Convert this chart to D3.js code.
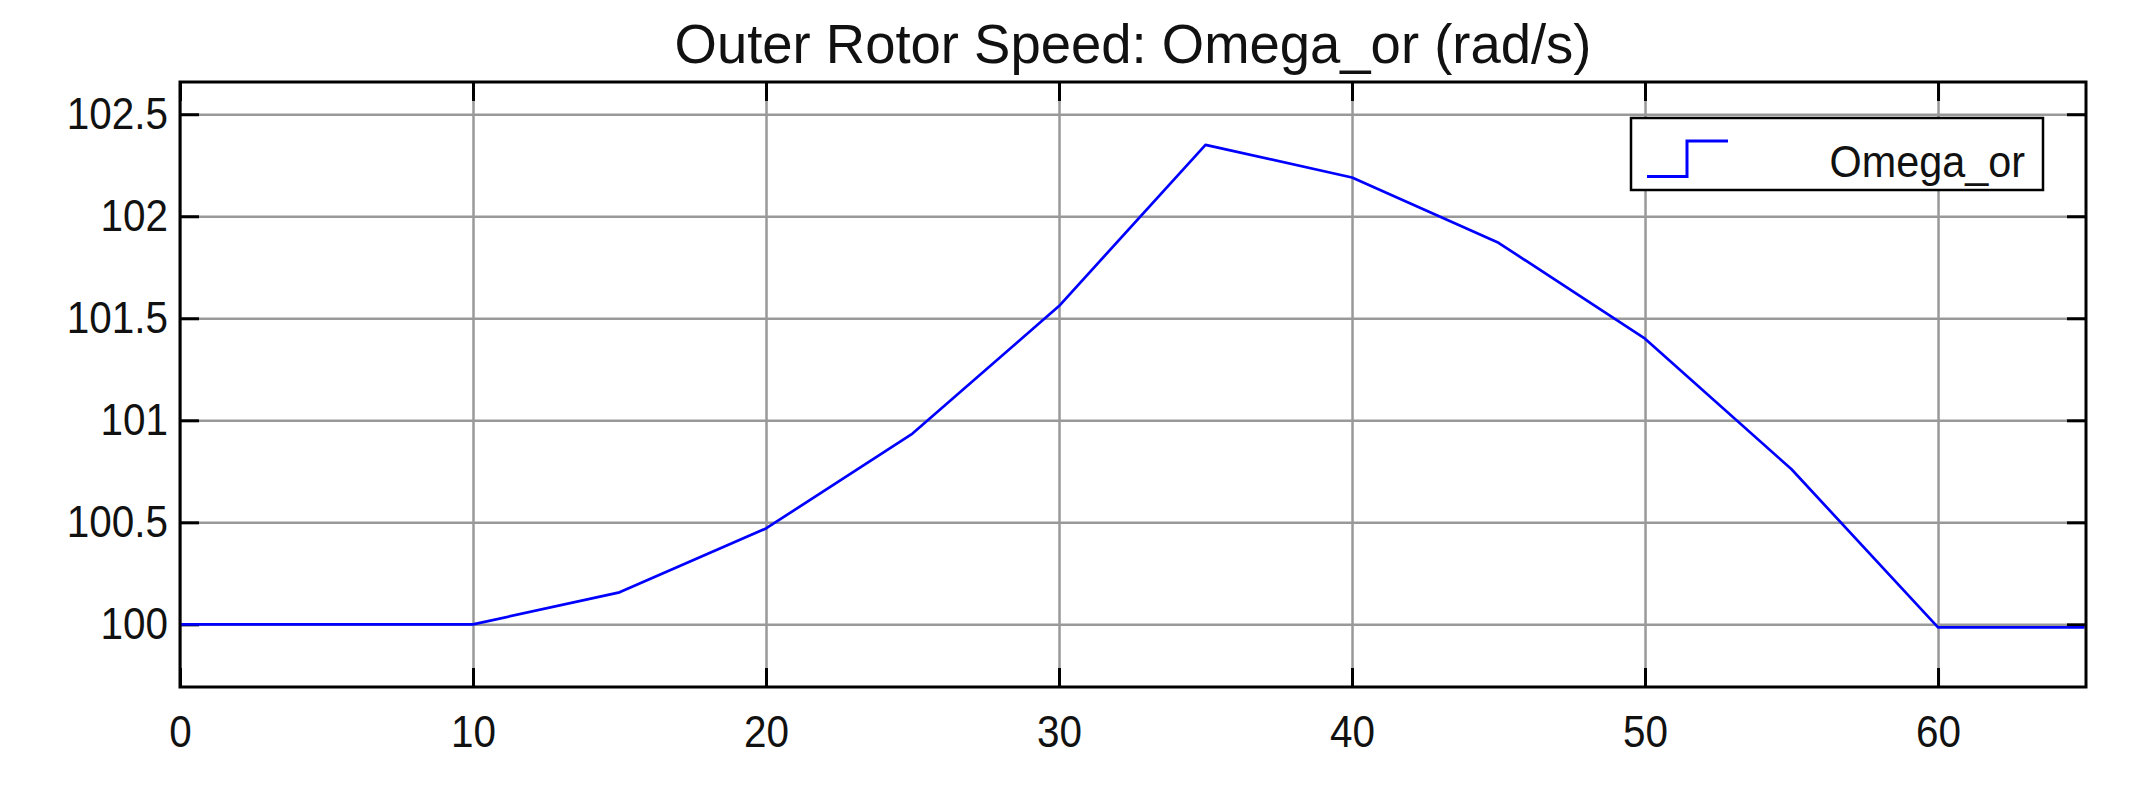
<!DOCTYPE html>
<html>
<head>
<meta charset="utf-8">
<script src="https://cdn.jsdelivr.net/npm/d3@7"></script>
<style>
  html, body { margin: 0; padding: 0; background: #fff; }
  svg { display: block; }
  text { font-family: "Liberation Sans", Arial, Helvetica, sans-serif; fill: #111; }
</style>
</head>
<body>
<svg id="chart" width="2135" height="811"></svg>
<script>
// ---- data ----
const titleText = "Outer Rotor Speed: Omega_or (rad/s)";
const seriesName = "Omega_or";
const timeValues  = [0, 5, 10, 15, 20, 25, 30, 35, 40, 45, 50, 55, 60, 65];
const omegaValues = [100, 100, 100, 100.157, 100.47, 100.935, 101.56, 102.35, 102.19, 101.87, 101.40, 100.76, 99.985, 99.985];
const xTicks = [0, 10, 20, 30, 40, 50, 60];
const yTicks = [100, 100.5, 101, 101.5, 102, 102.5];
const xDomain = [0, 65.05];
const yDomain = [99.693, 102.658];

// ---- layout ----
const L = 180, R = 2086, T = 82, B = 687;
const W = R - L, H = B - T;
const svg = d3.select("#chart");

const x = d3.scaleLinear().domain(xDomain).range([0, W]);
const y = d3.scaleLinear().domain(yDomain).range([H, 0]);

const g = svg.append("g").attr("transform", `translate(${L},${T})`);

g.append("rect").attr("width", W).attr("height", H).attr("fill", "#fff");

// grid
const gridColor = "#999999";
const gx = g.append("g").attr("transform", `translate(0,${H})`)
  .call(d3.axisBottom(x).tickValues(xTicks).tickSize(-H).tickFormat(""));
const gy = g.append("g")
  .call(d3.axisLeft(y).tickValues(yTicks).tickSize(-W).tickFormat(""));
[gx, gy].forEach(a => {
  a.select(".domain").remove();
  a.selectAll("line").attr("stroke", gridColor).attr("stroke-width", 2.5);
});

// inward ticks on all four sides
const tk = 19;
const tickAxes = [
  g.append("g").attr("transform", `translate(0,${H})`).call(d3.axisBottom(x).tickValues(xTicks).tickSize(-tk).tickFormat("")),
  g.append("g").call(d3.axisTop(x).tickValues(xTicks).tickSize(-tk).tickFormat("")),
  g.append("g").call(d3.axisLeft(y).tickValues(yTicks).tickSize(-tk).tickFormat("")),
  g.append("g").attr("transform", `translate(${W},0)`).call(d3.axisRight(y).tickValues(yTicks).tickSize(-tk).tickFormat(""))
];
tickAxes.forEach(a => {
  a.select(".domain").remove();
  a.selectAll("line").attr("stroke", "#000").attr("stroke-width", 3);
});

// data line
g.append("clipPath").attr("id", "clip").append("rect").attr("width", W).attr("height", H);
const line = d3.line().x((d, i) => x(timeValues[i])).y(d => y(d));
g.append("path")
  .datum(omegaValues)
  .attr("clip-path", "url(#clip)")
  .attr("fill", "none")
  .attr("stroke", "#0000ff")
  .attr("stroke-width", 2.7)
  .attr("stroke-linejoin", "round")
  .attr("d", line);

// frame
g.append("rect").attr("width", W).attr("height", H)
  .attr("fill", "none").attr("stroke", "#000").attr("stroke-width", 3);

// tick labels
const xl = g.append("g").attr("transform", `translate(0,${H})`)
  .call(d3.axisBottom(x).tickValues(xTicks).tickSize(0).tickPadding(29).tickFormat(d3.format("d")));
const yl = g.append("g")
  .call(d3.axisLeft(y).tickValues(yTicks).tickSize(0).tickPadding(13).tickFormat(d => String(d)));
[xl, yl].forEach(a => {
  a.select(".domain").remove();
  a.selectAll("text")
    .attr("font-size", 44)
    .attr("font-family", "Liberation Sans, Arial, sans-serif")
    .attr("fill", "#111")
    .attr("transform", "scale(0.92,1)");
});

// title
svg.append("text")
  .attr("transform", `translate(${L + W / 2},63) scale(0.99,1)`)
  .attr("text-anchor", "middle")
  .attr("font-size", 55)
  .text(titleText);

// legend
const lg = svg.append("g");
lg.append("rect")
  .attr("x", 1631).attr("y", 118).attr("width", 412).attr("height", 72)
  .attr("fill", "#fff").attr("stroke", "#000").attr("stroke-width", 2.5);
lg.append("path")
  .attr("d", "M1647,176.5 H1687 V141 H1728")
  .attr("fill", "none").attr("stroke", "#0000ff").attr("stroke-width", 3);
lg.append("text")
  .attr("transform", "translate(2025,176.5) scale(0.92,1)")
  .attr("text-anchor", "end")
  .attr("font-size", 45)
  .text(seriesName);
</script>
</body>
</html>
